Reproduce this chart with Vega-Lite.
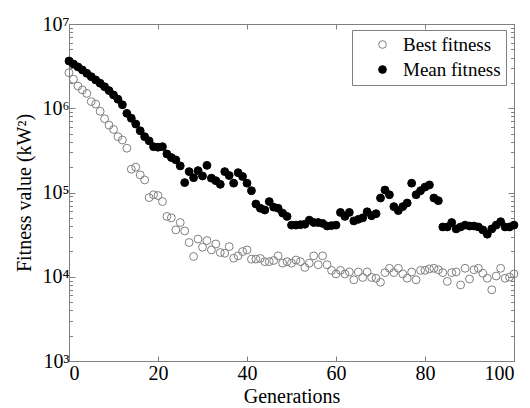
{
  "$schema": "https://vega.github.io/schema/vega-lite/v6.json",
  "width": 445,
  "height": 337,
  "autosize": "none",
  "padding": {"left": 69, "top": 24, "right": 16, "bottom": 47},
  "background": "white",
  "config": {
    "font": "Liberation Serif",
    "view": {"stroke": "#808080", "strokeWidth": 1},
    "axis": {
      "grid": false,
      "domainColor": "#808080",
      "tickColor": "#808080",
      "labelColor": "black",
      "labelFont": "Liberation Serif, DejaVu Serif",
      "labelFontSize": 20,
      "titleFont": "Liberation Serif, DejaVu Serif",
      "titleFontSize": 20,
      "titleFontWeight": "normal",
      "titleColor": "black"
    },
    "legend": {
      "orient": "none",
      "legendX": 283,
      "legendY": 6,
      "strokeColor": "#808080",
      "fillColor": "white",
      "padding": 5,
      "labelFont": "Liberation Serif",
      "labelFontSize": 19,
      "labelColor": "black",
      "symbolSize": 60,
      "symbolStrokeWidth": 1,
      "rowPadding": 5,
      "labelOffset": 11,
      "symbolOffset": 16
    }
  },
  "data": {
    "values": [
      {"g": 0, "best": 2640000, "mean": 3640000},
      {"g": 1, "best": 2210000, "mean": 3350000},
      {"g": 2, "best": 1840000, "mean": 3100000},
      {"g": 3, "best": 1650000, "mean": 2850000},
      {"g": 4, "best": 1500000, "mean": 2600000},
      {"g": 5, "best": 1200000, "mean": 2370000},
      {"g": 6, "best": 1120000, "mean": 2170000},
      {"g": 7, "best": 920000, "mean": 1980000},
      {"g": 8, "best": 750000, "mean": 1800000},
      {"g": 9, "best": 630000, "mean": 1620000},
      {"g": 10, "best": 560000, "mean": 1440000},
      {"g": 11, "best": 460000, "mean": 1280000},
      {"g": 12, "best": 420000, "mean": 1100000},
      {"g": 13, "best": 335000, "mean": 870000},
      {"g": 14, "best": 189000, "mean": 760000},
      {"g": 15, "best": 200000, "mean": 650000},
      {"g": 16, "best": 162000, "mean": 540000},
      {"g": 17, "best": 141000, "mean": 460000},
      {"g": 18, "best": 87000, "mean": 410000},
      {"g": 19, "best": 94000, "mean": 350000},
      {"g": 20, "best": 92000, "mean": 345000},
      {"g": 21, "best": 78000, "mean": 350000},
      {"g": 22, "best": 52000, "mean": 287000},
      {"g": 23, "best": 50000, "mean": 260000},
      {"g": 24, "best": 36000, "mean": 244000},
      {"g": 25, "best": 44000, "mean": 207000},
      {"g": 26, "best": 35000, "mean": 131000},
      {"g": 27, "best": 25500, "mean": 177000},
      {"g": 28, "best": 17400, "mean": 150000},
      {"g": 29, "best": 28000, "mean": 182000},
      {"g": 30, "best": 22400, "mean": 157000},
      {"g": 31, "best": 26900, "mean": 210000},
      {"g": 32, "best": 20800, "mean": 148000},
      {"g": 33, "best": 24500, "mean": 138000},
      {"g": 34, "best": 19400, "mean": 125000},
      {"g": 35, "best": 19000, "mean": 177000},
      {"g": 36, "best": 22800, "mean": 159000},
      {"g": 37, "best": 16600, "mean": 129000},
      {"g": 38, "best": 17700, "mean": 172000},
      {"g": 39, "best": 19900, "mean": 155000},
      {"g": 40, "best": 20800, "mean": 129000},
      {"g": 41, "best": 16200, "mean": 105000},
      {"g": 42, "best": 16200, "mean": 73000},
      {"g": 43, "best": 16500, "mean": 65000},
      {"g": 44, "best": 15100, "mean": 62000},
      {"g": 45, "best": 15100, "mean": 78000},
      {"g": 46, "best": 15600, "mean": 67000},
      {"g": 47, "best": 17700, "mean": 65000},
      {"g": 48, "best": 14500, "mean": 57000},
      {"g": 49, "best": 15100, "mean": 52000},
      {"g": 50, "best": 14500, "mean": 41000},
      {"g": 51, "best": 15800, "mean": 41000},
      {"g": 52, "best": 15100, "mean": 41500},
      {"g": 53, "best": 12900, "mean": 42000},
      {"g": 54, "best": 14500, "mean": 47000},
      {"g": 55, "best": 17700, "mean": 44000},
      {"g": 56, "best": 13900, "mean": 44000},
      {"g": 57, "best": 17700, "mean": 43000},
      {"g": 58, "best": 13900, "mean": 40000},
      {"g": 59, "best": 11900, "mean": 40500},
      {"g": 60, "best": 10800, "mean": 41000},
      {"g": 61, "best": 11900, "mean": 58000},
      {"g": 62, "best": 10800, "mean": 52000},
      {"g": 63, "best": 11400, "mean": 58000},
      {"g": 64, "best": 9200, "mean": 46000},
      {"g": 65, "best": 11400, "mean": 48000},
      {"g": 66, "best": 9800, "mean": 50000},
      {"g": 67, "best": 11400, "mean": 59000},
      {"g": 68, "best": 9800, "mean": 53000},
      {"g": 69, "best": 9600, "mean": 56000},
      {"g": 70, "best": 8600, "mean": 86000},
      {"g": 71, "best": 11200, "mean": 107000},
      {"g": 72, "best": 12600, "mean": 94000},
      {"g": 73, "best": 11200, "mean": 68000},
      {"g": 74, "best": 12600, "mean": 61000},
      {"g": 75, "best": 10800, "mean": 68000},
      {"g": 76, "best": 9600, "mean": 75000},
      {"g": 77, "best": 11400, "mean": 129000},
      {"g": 78, "best": 9200, "mean": 94000},
      {"g": 79, "best": 11900, "mean": 105000},
      {"g": 80, "best": 11900, "mean": 116000},
      {"g": 81, "best": 12400, "mean": 123000},
      {"g": 82, "best": 12600, "mean": 86000},
      {"g": 83, "best": 12100, "mean": 80000},
      {"g": 84, "best": 11200, "mean": 39000},
      {"g": 85, "best": 8800, "mean": 39000},
      {"g": 86, "best": 11200, "mean": 44000},
      {"g": 87, "best": 11400, "mean": 37000},
      {"g": 88, "best": 8000, "mean": 39000},
      {"g": 89, "best": 12600, "mean": 41000},
      {"g": 90, "best": 9400, "mean": 40000},
      {"g": 91, "best": 12100, "mean": 40000},
      {"g": 92, "best": 12600, "mean": 39000},
      {"g": 93, "best": 11000, "mean": 36000},
      {"g": 94, "best": 9600, "mean": 32000},
      {"g": 95, "best": 7000, "mean": 37000},
      {"g": 96, "best": 10200, "mean": 41000},
      {"g": 97, "best": 12600, "mean": 45000},
      {"g": 98, "best": 9600, "mean": 39000},
      {"g": 99, "best": 9900, "mean": 39000},
      {"g": 100, "best": 10800, "mean": 41000}
    ]
  },
  "transform": [
    {"fold": ["best", "mean"], "as": ["key", "v"]},
    {"lookup": "key", "from": {"data": {"values": [{"key": "best", "series": "Best fitness"}, {"key": "mean", "series": "Mean fitness"}]}, "key": "key", "fields": ["series"]}}
  ],
  "layer": [
    {
      "mark": {"type": "point", "shape": "circle", "size": 62, "opacity": 1, "strokeWidth": 1},
      "encoding": {
        "x": {
          "field": "g", "type": "quantitative",
          "scale": {"domain": [0, 100], "nice": false, "zero": false},
          "axis": {"values": [0, 20, 40, 60, 80, 100], "tickSize": -5, "labelPadding": 7, "title": "Generations", "titlePadding": 3}
        },
        "y": {
          "field": "v", "type": "quantitative",
          "scale": {"type": "log", "domain": [1000, 10000000], "nice": false},
          "axis": {
            "values": [1000, 2000, 3000, 4000, 5000, 6000, 7000, 8000, 9000, 10000, 20000, 30000, 40000, 50000, 60000, 70000, 80000, 90000, 100000, 200000, 300000, 400000, 500000, 600000, 700000, 800000, 900000, 1000000, 2000000, 3000000, 4000000, 5000000, 6000000, 7000000, 8000000, 9000000, 10000000],
            "labelExpr": "datum.value == 1000 ? '10³' : datum.value == 10000 ? '10⁴' : datum.value == 100000 ? '10⁵' : datum.value == 1000000 ? '10⁶' : datum.value == 10000000 ? '10⁷' : ''",
            "tickSize": {"condition": {"test": "indexof([1000, 10000, 100000, 1000000, 10000000], datum.value) >= 0", "value": -6}, "value": -3.5},
            "labelPadding": 6,
            "title": "Fitness value (kW²)",
            "titlePadding": 8
          }
        },
        "fill": {
          "field": "series", "type": "nominal",
          "scale": {"domain": ["Best fitness", "Mean fitness"], "range": ["transparent", "black"]},
          "legend": {"title": null}
        },
        "stroke": {
          "field": "series", "type": "nominal",
          "scale": {"domain": ["Best fitness", "Mean fitness"], "range": ["#808080", "black"]},
          "legend": {"title": null}
        }
      }
    },
    {
      "mark": {"type": "point", "opacity": 0},
      "encoding": {
        "x": {
          "field": "g", "type": "quantitative",
          "axis": {"orient": "top", "values": [0, 20, 40, 60, 80, 100], "tickSize": -5, "labels": false, "title": null}
        },
        "y": {
          "field": "v", "type": "quantitative",
          "axis": {
            "orient": "right", "labels": false, "title": null,
            "values": [1000, 2000, 3000, 4000, 5000, 6000, 7000, 8000, 9000, 10000, 20000, 30000, 40000, 50000, 60000, 70000, 80000, 90000, 100000, 200000, 300000, 400000, 500000, 600000, 700000, 800000, 900000, 1000000, 2000000, 3000000, 4000000, 5000000, 6000000, 7000000, 8000000, 9000000, 10000000],
            "tickSize": {"condition": {"test": "indexof([1000, 10000, 100000, 1000000, 10000000], datum.value) >= 0", "value": -6}, "value": -3.5}
          }
        }
      }
    }
  ],
  "resolve": {"axis": {"x": "independent", "y": "independent"}}
}
